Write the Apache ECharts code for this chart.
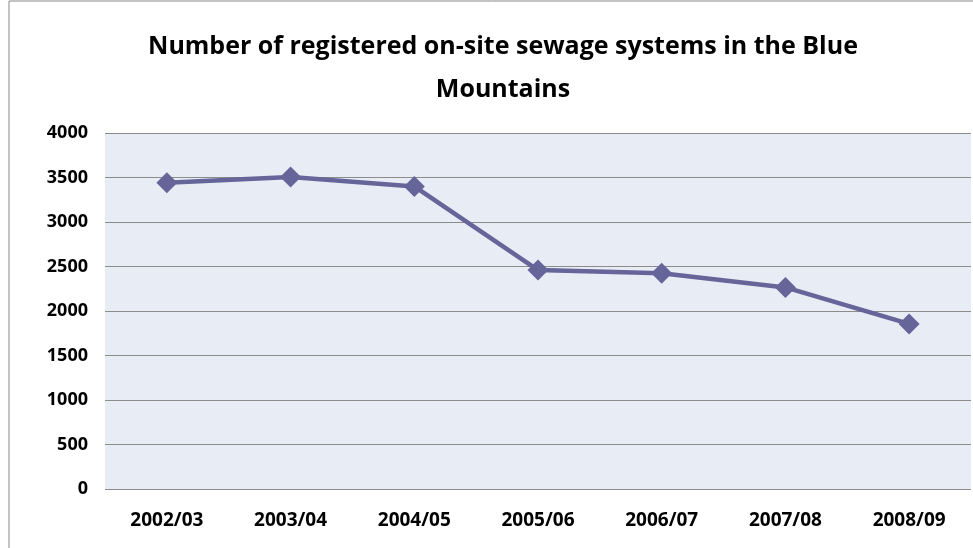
<!DOCTYPE html>
<html>
<head>
<meta charset="utf-8">
<script src="https://cdn.jsdelivr.net/npm/echarts@6/dist/echarts.min.js"></script>
<style>
  html, body { margin: 0; padding: 0; background: #fff; }
  #chart { width: 973px; height: 548px; }
</style>
</head>
<body>
<div id="chart"></div>
<script>
const years = ['2002/03', '2003/04', '2004/05', '2005/06', '2006/07', '2007/08', '2008/09']
const systems = [3440, 3505, 3400, 2460, 2425, 2265, 1855]
const yTicks = [0, 500, 1000, 1500, 2000, 2500, 3000, 3500, 4000]

const chart = echarts.init(document.getElementById('chart'))
chart.setOption({
  animation: false,
  title: {
    text: 'Number of registered on-site sewage systems in the Blue\nMountains',
    left: 498,
    top: 20,
    textAlign: 'center',
    textStyle: {
      fontFamily: 'Open Sans',
      fontWeight: 'bold',
      fontSize: 25,
      lineHeight: 43,
      color: '#000',
    },
  },
  graphic: [
    {
      type: 'rect',
      shape: { x: 9, y: 1, width: 1000, height: 600 },
      style: { fill: 'none', stroke: '#888', lineWidth: 1 },
      silent: true,
    },
  ],
  grid: {
    left: 105,
    right: 2,
    top: 133,
    bottom: 59,
    show: true,
    backgroundColor: '#E8ECF4',
    borderWidth: 0,
  },
  xAxis: {
    type: 'category',
    data: years,
    boundaryGap: true,
    axisLine: { show: false },
    axisTick: { show: false },
    axisLabel: {
      margin: 22,
      fontFamily: 'Open Sans',
      fontWeight: 'bold',
      fontSize: 19,
      color: '#000',
    },
  },
  yAxis: {
    type: 'value',
    min: yTicks[0],
    max: yTicks[yTicks.length - 1],
    interval: 500,
    axisLine: { show: false },
    axisTick: { show: false },
    splitLine: { lineStyle: { color: '#8C8C8C', width: 1 } },
    axisLabel: {
      margin: 17,
      fontFamily: 'Open Sans',
      fontWeight: 'bold',
      fontSize: 18,
      color: '#000',
      formatter: (v) => String(v),
    },
  },
  series: [
    {
      type: 'line',
      data: systems,
      symbol: 'diamond',
      symbolSize: 21,
      lineStyle: { color: '#65659A', width: 4.5 },
      itemStyle: { color: '#65659A' },
    },
  ],
})
</script>
</body>
</html>
